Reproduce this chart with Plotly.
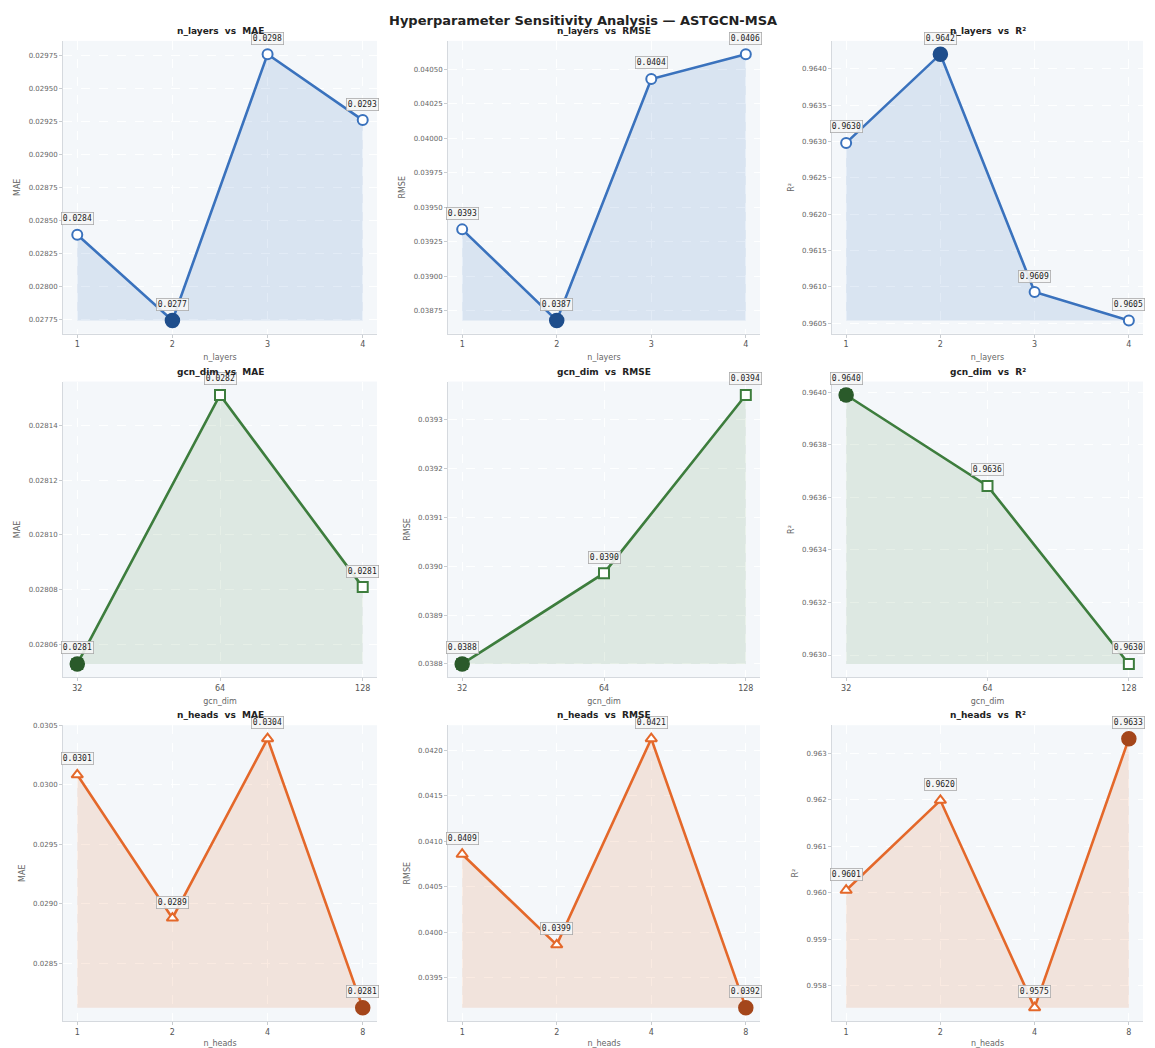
import plotly.graph_objects as go

# Hyperparameter grids
n_layers = ["1", "2", "3", "4"]
gcn_dim = ["32", "64", "128"]
n_heads = ["1", "2", "4", "8"]

# Metrics per hyperparameter setting
mae_layers = [0.02839, 0.02774, 0.02976, 0.02926]
rmse_layers = [0.03934, 0.03868, 0.04043, 0.04061]
r2_layers = [0.96298, 0.96420, 0.96093, 0.96054]

mae_dim = [0.028053, 0.028151, 0.028081]
rmse_dim = [0.038800, 0.038986, 0.039351]
r2_dim = [0.96399, 0.963644, 0.962966]

mae_heads = [0.030084, 0.028879, 0.030388, 0.028126]
rmse_heads = [0.040857, 0.03986, 0.042129, 0.039169]
r2_heads = [0.960057, 0.96199, 0.957534, 0.963315]

W, H = 1155, 1048
col_px = [(63, 377), (448, 760), (832, 1143)]
row_px = [(38, 332), (380, 677), (725, 1022)]

groups = [
    dict(name="n_layers", cats=n_layers, color="#3a72bd", dark="#1f4e8c",
         fill="rgba(58,114,189,0.14)", symbol="circle-open", sym_fill="circle",
         series=[("MAE", mae_layers, False, 0.00025, ".5f"),
                 ("RMSE", rmse_layers, False, 0.00025, ".5f"),
                 ("R²", r2_layers, True, 0.0005, ".4f")]),
    dict(name="gcn_dim", cats=gcn_dim, color="#3d7d3d", dark="#2a5a2a",
         fill="rgba(61,125,61,0.12)", symbol="square", sym_fill="circle",
         series=[("MAE", mae_dim, False, 0.00002, ".5f"),
                 ("RMSE", rmse_dim, False, 0.0001, ".4f"),
                 ("R²", r2_dim, True, 0.0002, ".4f")]),
    dict(name="n_heads", cats=n_heads, color="#e4682a", dark="#a4461b",
         fill="rgba(228,104,42,0.14)", symbol="triangle-up", sym_fill="circle",
         series=[("MAE", mae_heads, False, 0.0005, ".4f"),
                 ("RMSE", rmse_heads, False, 0.0005, ".4f"),
                 ("R²", r2_heads, True, 0.001, ".3f")]),
]

fig = go.Figure()
annotations = []
layout_axes = {}

idx = 0
for r, g in enumerate(groups):
    for c, (metric, vals, higher_better, dtick, fmt) in enumerate(g["series"]):
        idx += 1
        xa = "x" if idx == 1 else f"x{idx}"
        ya = "y" if idx == 1 else f"y{idx}"
        xkey = "xaxis" if idx == 1 else f"xaxis{idx}"
        ykey = "yaxis" if idx == 1 else f"yaxis{idx}"
        n = len(vals)
        xs = list(range(n))
        lo, hi = min(vals), max(vals)
        span = hi - lo
        best = vals.index(hi) if higher_better else vals.index(lo)

        # baseline for the shaded area
        fig.add_trace(go.Scatter(x=xs, y=[lo] * n, mode="lines",
                                 line=dict(width=0, color=g["fill"]),
                                 hoverinfo="skip", showlegend=False,
                                 xaxis=xa, yaxis=ya))
        fig.add_trace(go.Scatter(x=xs, y=vals, mode="lines+markers",
                                 fill="tonexty", fillcolor=g["fill"],
                                 line=dict(color=g["color"], width=2.6),
                                 marker=dict(symbol=g["symbol"].replace("-open", ""),
                                             size=10, color="white",
                                             line=dict(color=g["color"], width=2)),
                                 showlegend=False, xaxis=xa, yaxis=ya))
        # highlight the best setting
        fig.add_trace(go.Scatter(x=[best], y=[vals[best]], mode="markers",
                                 marker=dict(symbol="circle", size=14,
                                             color=g["dark"],
                                             line=dict(color=g["dark"], width=1.5)),
                                 showlegend=False, xaxis=xa, yaxis=ya))

        for i, v in enumerate(vals):
            annotations.append(dict(
                x=i, y=v, xref=xa, yref=ya, text=f"{v:.4f}",
                showarrow=False, yshift=16,
                font=dict(family="DejaVu Sans Mono", size=8, color="#222"),
                bgcolor="rgba(245,245,245,0.9)", bordercolor="#aaaaaa",
                borderwidth=0.8, borderpad=1))

        x0, x1 = col_px[c]
        y0, y1 = row_px[r]
        layout_axes[xkey] = dict(
            domain=[x0 / W, x1 / W], anchor=ya,
            range=[-0.05 * (n - 1), (n - 1) * 1.05],
            tickmode="array", tickvals=xs, ticktext=g["cats"],
            showgrid=True, gridcolor="rgba(255,255,255,0.9)", griddash="dash",
            zeroline=False, showline=True, linecolor="#d5d9de", linewidth=1,
            ticks="outside", ticklen=3, tickcolor="#c8ccd0",
            tickfont=dict(family="DejaVu Sans", size=8, color="#555"),
            title=dict(text=g["name"], standoff=6,
                       font=dict(family="DejaVu Sans", size=8, color="#666")))
        layout_axes[ykey] = dict(
            domain=[1 - y1 / H, 1 - y0 / H], anchor=xa,
            range=[lo - 0.05 * span, hi + 0.05 * span],
            dtick=dtick, tick0=0, tickformat=fmt,
            showgrid=True, gridcolor="rgba(255,255,255,0.9)", griddash="dash",
            zeroline=False, showline=True, linecolor="#d5d9de", linewidth=1,
            ticks="outside", ticklen=3, tickcolor="#c8ccd0",
            tickfont=dict(family="DejaVu Sans", size=7, color="#666"),
            title=dict(text=metric, standoff=6,
                       font=dict(family="DejaVu Sans", size=8, color="#666")))

        # panel title
        annotations.append(dict(
            x=(x0 + x1) / 2 / W, y=1 - (y0 - 10) / H, xref="paper", yref="paper",
            text=f"<b>{g['name']}  vs  {metric}</b>", showarrow=False,
            font=dict(family="DejaVu Sans", size=9, color="#222"),
            xanchor="center", yanchor="middle"))

annotations.append(dict(
    x=583 / W, y=1 - 18 / H, xref="paper", yref="paper",
    text="<b>Hyperparameter Sensitivity Analysis — ASTGCN-MSA</b>",
    showarrow=False, font=dict(family="DejaVu Sans", size=13, color="#222"),
    xanchor="center", yanchor="middle"))

fig.update_layout(
    width=W, height=H, margin=dict(l=0, r=0, t=0, b=0),
    paper_bgcolor="white", plot_bgcolor="#f4f7fa",
    annotations=annotations, **layout_axes)

fig.write_html("out.html")
